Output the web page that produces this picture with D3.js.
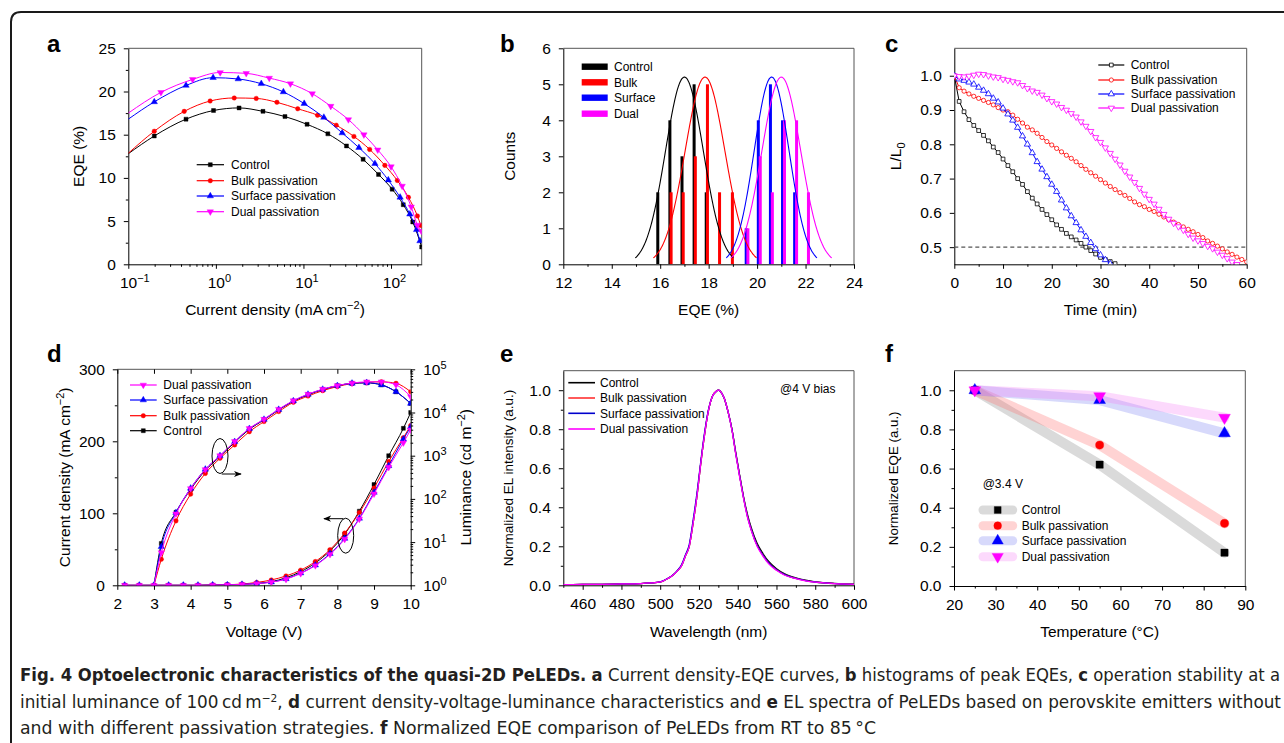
<!DOCTYPE html>
<html><head><meta charset="utf-8">
<script src="https://cdn.jsdelivr.net/npm/d3@7"></script>
<style>
body{margin:0;background:#fff;}
</style></head><body>
<script>
// ================= DATA =================
// Panel a: current density (mA cm-2) vs EQE (%)
const aControlJ   = [0.1, 0.198, 0.456, 0.94, 1.84, 3.45, 6.15, 11, 19, 31, 48, 72, 103, 138, 177, 224];
const aControlEQE = [12.8, 14.85, 16.8, 17.8, 18.1, 17.7, 17.1, 16.2, 15.1, 13.7, 12.15, 10.4, 8.7, 6.9, 4.9, 2.0];
const aBulkJ      = [0.1, 0.198, 0.435, 0.86, 1.62, 2.89, 4.98, 8.6, 14.5, 23.7, 37.7, 57, 85, 118, 158, 200, 219];
const aBulkEQE    = [12.85, 15.4, 17.7, 18.9, 19.25, 19.2, 18.75, 18.0, 17.25, 16.1, 14.8, 13.3, 11.45, 9.7, 7.75, 5.6, 4.5];
const aSurfaceJ   = [0.1, 0.198, 0.456, 0.93, 1.80, 3.3, 5.9, 10.2, 17.1, 27.7, 43, 65.5, 93, 127, 164, 196, 214];
const aSurfaceEQE = [16.8, 18.8, 20.7, 21.6, 21.45, 20.9, 19.95, 18.6, 17.0, 15.2, 13.5, 11.65, 9.75, 7.75, 5.8, 4.0, 2.7];
const aDualJ      = [0.1, 0.236, 0.543, 1.12, 2.22, 4.07, 7.1, 12.6, 20.5, 32.6, 49, 70.5, 100, 134, 170, 200, 222];
const aDualEQE    = [17.5, 19.9, 21.4, 22.2, 22.1, 21.55, 20.9, 19.75, 18.3, 16.75, 15.0, 13.25, 11.3, 9.05, 6.65, 4.55, 3.85];
const aXTicks = [0.1, 1, 10, 100];

// Panel b: histogram of peak EQEs
const bControlEQE = [15.9, 16.4, 16.9, 17.4, 17.9];
const bControlCnt = [2, 4, 3, 5, 2];
const bBulkEQE    = [16.45, 16.95, 17.45, 17.95, 18.45, 18.98];
const bBulkCnt    = [2, 2, 3, 5, 2, 2];
const bSurfaceEQE = [19.55, 20.05, 20.55, 21.05, 21.55];
const bSurfaceCnt = [1, 4, 5, 4, 2];
const bDualEQE    = [19.62, 20.13, 20.63, 21.13, 21.63, 22.12];
const bDualCnt    = [1, 3, 2, 4, 4, 2];
// Gaussian fit parameters (control, bulk, surface, dual)
const bFitCenter = [17.0, 17.85, 20.6, 21.0];
const bFitSigma  = [0.78, 0.82, 0.72, 0.8];
const bFitHeight = [5.2, 5.2, 5.2, 5.2];

// Panel c: L/L0 vs time (min)
const cTime = [0,1,2,3,4,5,6,7,8,9,10,11,12,13,14,15,16,17,18,19,20,21,22,23,24,25,26,27,28,29,30,31,32,33,34,35,36,37,38,39,40,41,42,43,44,45,46,47,48,49,50,51,52,53,54,55,56,57,58,59,60];
const cControl = [1.0,0.925,0.895,0.872,0.855,0.84,0.826,0.81,0.792,0.776,0.757,0.738,0.72,0.70,0.683,0.662,0.643,0.626,0.61,0.595,0.58,0.565,0.552,0.54,0.53,0.521,0.511,0.50,0.49,0.48,0.47,0.464,0.458,0.452];
const cBulk = [1.0,0.965,0.955,0.947,0.94,0.934,0.928,0.922,0.915,0.907,0.90,0.895,0.885,0.873,0.862,0.85,0.842,0.832,0.82,0.808,0.798,0.788,0.778,0.768,0.759,0.749,0.738,0.727,0.717,0.707,0.697,0.687,0.677,0.668,0.659,0.651,0.642,0.632,0.624,0.618,0.61,0.604,0.596,0.588,0.58,0.573,0.566,0.559,0.552,0.545,0.537,0.528,0.518,0.511,0.503,0.495,0.486,0.479,0.471,0.464,0.457];
const cSurface = [1.0,0.99,0.986,0.981,0.975,0.966,0.957,0.947,0.934,0.923,0.905,0.888,0.87,0.849,0.824,0.80,0.775,0.749,0.727,0.705,0.683,0.662,0.637,0.614,0.591,0.571,0.55,0.531,0.513,0.495,0.477,0.463,0.451];
const cDual = [1.0,0.998,0.997,0.999,1.002,1.005,1.004,1.0,0.997,0.995,0.99,0.987,0.983,0.98,0.972,0.963,0.956,0.952,0.944,0.934,0.925,0.918,0.908,0.90,0.89,0.88,0.866,0.853,0.838,0.82,0.806,0.79,0.774,0.757,0.74,0.722,0.705,0.689,0.672,0.655,0.64,0.626,0.611,0.596,0.582,0.57,0.56,0.55,0.538,0.527,0.519,0.511,0.503,0.496,0.486,0.477,0.467,0.457,0.45];

// Panel d: J-V-L
const dVoltJ = [2.2,2.6,3.0,3.4,3.8,4.2,4.6,5.0,5.4,5.8,6.2,6.6,7.0,7.4,7.8,8.2,8.6,9.0,9.4,9.8,10.0];
const dJControl = [0,0,0,0,0,0,0.3,0.6,1.2,2.5,5,10.5,19,31,48,71,103,140,180,218,240];
const dJBulk    = [0,0,0,0,0,0,0.4,0.8,1.8,4,7.4,13,21,33,49.5,72.5,101,135,172,205,222];
const dJSurface = [0,0,0,0,0,0,0.3,0.6,1.3,2.5,4.5,9,17,28,44,65,93,129,166,203,220];
const dJDual    = [0,0,0,0,0,0,0.3,0.6,1.2,2.3,4.3,8.5,16.5,27.5,43,64,92,127,164,198,216];
const dVoltL = [3.0,3.2,3.6,4.0,4.4,4.8,5.2,5.6,6.0,6.4,6.8,7.2,7.6,8.0,8.4,8.8,9.2,9.6,10.0];
const dLControl = [1,9.3,49,166,457,955,2040,4070,6760,11500,18200,25700,33900,41700,47300,48400,43700,30200,16200];
const dLBulk    = [1,4.0,31,129,389,871,1780,3590,6170,10500,17200,24000,32000,39800,46800,50100,51300,47300,30200];
const dLSurface = [1,7.8,48,176,484,1000,2110,4220,6920,11700,18600,26300,34300,41700,47300,49000,43700,30200,16200];
const dLDual    = [1,5.7,45,174,479,1000,2140,4270,7000,11900,18800,26600,34700,42200,47900,51300,51300,43700,23400];

// Panel e: EL spectra
const eWave = [450,460,470,480,490,495,500,504,507,509,511,513,515,517,519,521,523,525,527,529,530,531,533,535,537,539,541,543,545,547,550,553,556,560,564,570,575,580,590,600];
const eControl = [0.003,0.004,0.005,0.007,0.009,0.012,0.017,0.035,0.055,0.075,0.10,0.15,0.20,0.32,0.46,0.63,0.78,0.90,0.97,0.995,1.0,0.995,0.96,0.89,0.80,0.68,0.565,0.455,0.365,0.295,0.215,0.163,0.122,0.085,0.06,0.038,0.026,0.018,0.01,0.006];
const eBulk    = [0.003,0.004,0.005,0.007,0.009,0.012,0.017,0.035,0.055,0.075,0.10,0.15,0.20,0.32,0.46,0.63,0.78,0.90,0.97,0.995,1.0,0.995,0.96,0.89,0.80,0.675,0.56,0.45,0.355,0.285,0.205,0.155,0.115,0.08,0.056,0.035,0.024,0.017,0.009,0.005];
const eSurface = [0.003,0.004,0.005,0.007,0.009,0.012,0.018,0.036,0.057,0.078,0.105,0.155,0.21,0.335,0.475,0.64,0.79,0.905,0.97,0.995,1.0,0.995,0.96,0.89,0.80,0.675,0.56,0.45,0.355,0.285,0.205,0.155,0.115,0.08,0.056,0.035,0.024,0.017,0.009,0.005];
const eDual    = [0.003,0.004,0.005,0.007,0.009,0.012,0.017,0.035,0.055,0.075,0.10,0.15,0.20,0.32,0.46,0.63,0.78,0.90,0.97,0.995,1.0,0.995,0.96,0.89,0.795,0.67,0.555,0.445,0.35,0.28,0.20,0.15,0.11,0.077,0.053,0.034,0.023,0.016,0.009,0.005];

// Panel f: normalized EQE vs temperature
const fTemp = [25, 55, 85];
const fControl = [1.0, 0.62, 0.17];
const fBulk    = [1.0, 0.72, 0.32];
const fSurface = [1.0, 0.95, 0.78];
const fDual    = [1.0, 0.97, 0.86];

const seriesNames = ["Control", "Bulk passivation", "Surface passivation", "Dual passivation"];
const seriesColors = ["#000000", "#ff0000", "#0000ff", "#ff00ff"];

// ================= DRAWING =================
const FONT = '"Liberation Sans", Arial, Helvetica, sans-serif';
const FS_TICK = 15.5, FS_TITLE = 15.5, FS_LEG = 12;
const svg = d3.select('body').append('svg').attr('width',1284).attr('height',743)
  .style('font-family',FONT).style('display','block');
const defs = svg.append('defs');
defs.append('marker').attr('id','arrow').attr('viewBox','0 0 10 10').attr('refX',9).attr('refY',5)
  .attr('markerWidth',8).attr('markerHeight',8).attr('markerUnits','userSpaceOnUse').attr('orient','auto')
  .append('path').attr('d','M0,1 L10,5 L0,9 L3,5 Z').attr('fill','#000');

// outer border
svg.append('path').attr('d','M11,743 L11,22 Q11,12 21,12 L1284,12').attr('fill','none')
  .attr('stroke','#1a1a1a').attr('stroke-width',2);

const PA={l:128.3,r:421.7,t:48.3,b:264.3};
const PB={l:563.3,r:854,t:48.3,b:264.3};
const PC={l:954.3,r:1246.7,t:48.3,b:264.3};
const PD={l:117.3,r:410.7,t:369.3,b:585.3};
const PE={l:563.3,r:854,t:370.7,b:585.3};
const PF={l:954,r:1245.3,t:370.7,b:586};

function clip(id,P){ defs.append('clipPath').attr('id',id).append('rect')
  .attr('x',P.l).attr('y',P.t).attr('width',P.r-P.l).attr('height',P.b-P.t); }
clip('clipA',PA); clip('clipB',PB); clip('clipC',PC); clip('clipD',PD); clip('clipE',PE); clip('clipF',PF);

function frame(P, right=true){
  svg.append('path').attr('d',`M${P.l},${P.t} H${P.r}` + (right?` V${P.b}`:''))
    .attr('fill','none').attr('stroke','#555').attr('stroke-width',1);
}
function gen(orient, scale){
  return {bottom:d3.axisBottom, top:d3.axisTop, left:d3.axisLeft, right:d3.axisRight}[orient](scale);
}
function drawAxis(orient, scale, offset, major, minor, fmt, opts={}){
  const tl = opts.tl ?? 4.5;
  const inner = !!opts.inner;
  const tr = (orient==='bottom'||orient==='top') ? `translate(0,${offset})` : `translate(${offset},0)`;
  if(minor && minor.length){
    const m = svg.append('g').attr('transform',tr)
      .call(gen(orient,scale).tickValues(minor).tickSize(inner?-2.5:2.5).tickSizeOuter(0).tickFormat(''));
    m.select('.domain').remove();
    m.selectAll('line').attr('stroke','#000');
  }
  const a = svg.append('g').attr('transform',tr)
    .call(gen(orient,scale).tickValues(major).tickSize(inner?-tl:tl).tickSizeOuter(0).tickPadding(opts.pad ?? 8)
      .tickFormat(fmt===undefined?null:fmt));
  a.attr('font-family',FONT).attr('font-size',FS_TICK);
  a.selectAll('text').attr('fill','#000');
  a.selectAll('line').attr('stroke','#000');
  a.select('.domain').attr('stroke','#000');
  if(opts.noDomain) a.select('.domain').remove();
  if(opts.noLabels) a.selectAll('text').remove();
  return a;
}
function powLabels(a, anchorMiddle){
  a.selectAll('.tick text').each(function(d){
    const e = Math.round(Math.log10(d));
    const s = e<0 ? '\u2212'+(-e) : String(e);
    const t = d3.select(this); t.text(null);
    t.append('tspan').text('10');
    t.append('tspan').attr('dy','-0.55em').attr('font-size',11).text(s);
    if(anchorMiddle) t.attr('dx', s.length*3);
  });
}
function titleX(x,y,parts,fs=FS_TITLE){
  const t = svg.append('text').attr('x',x).attr('y',y).attr('text-anchor','middle').attr('font-size',fs).attr('fill','#000');
  addParts(t,parts); return t;
}
function titleY(x,y,parts,fs=FS_TITLE){
  const t = svg.append('text').attr('transform',`translate(${x},${y}) rotate(-90)`).attr('text-anchor','middle')
    .attr('font-size',fs).attr('fill','#000');
  addParts(t,parts); return t;
}
function addParts(t,parts){
  parts.forEach(p=>{
    if(typeof p==='string'){ t.append('tspan').text(p); return; }
    const s = t.append('tspan').text(p.t);
    if(p.sup){ s.attr('dy',-6).attr('font-size',11); }
    if(p.sub){ s.attr('dy',4).attr('font-size',11); }
    if(p.back){ s.attr('dy',p.back); }
    if(p.b){ s.attr('font-weight','bold'); }
  });
}
function panelLetter(x,y,l){
  svg.append('text').attr('x',x).attr('y',y).attr('font-size',24).attr('font-weight','bold').attr('fill','#000').text(l);
}
function symPath(type,size){
  const s = type==='square'?d3.symbolSquare : type==='circle'?d3.symbolCircle : d3.symbolTriangle;
  return d3.symbol().type(s).size(size)();
}
function markers(g, pts, type, size, color, open){
  g.selectAll(null).data(pts).join('path')
    .attr('d', symPath(type,size))
    .attr('transform', d=>`translate(${d[0]},${d[1]})` + (type==='down'?' rotate(180)':''))
    .attr('fill', open?'#fff':color).attr('stroke', color).attr('stroke-width', open?0.8:0.4);
}
const symTypes = ['square','circle','up','down'];

// ---------------- Panel a ----------------
{
  const x = d3.scaleLog().domain([0.1,224]).range([PA.l,PA.r]);
  const y = d3.scaleLinear().domain([0,25]).range([PA.b,PA.t]);
  frame(PA);
  const minorX = [];
  [0.1,1,10,100].forEach(b=>{ for(let k=2;k<=9;k++){ if(b*k<=224) minorX.push(b*k);} });
  const ax = drawAxis('bottom', x, PA.b, aXTicks, minorX, ()=>'');
  powLabels(ax, true);
  drawAxis('left', y, PA.l, [0,5,10,15,20,25], [2.5,7.5,12.5,17.5,22.5], d3.format('d'));
  const g = svg.append('g').attr('clip-path','url(#clipA)');
  const sets = [[aControlJ,aControlEQE],[aBulkJ,aBulkEQE],[aSurfaceJ,aSurfaceEQE],[aDualJ,aDualEQE]];
  const line = d3.line().curve(d3.curveMonotoneX);
  sets.forEach((s,i)=>{
    const pts = s[0].map((v,j)=>[x(v), y(s[1][j])]);
    g.append('path').attr('d',line(pts)).attr('fill','none').attr('stroke',seriesColors[i]).attr('stroke-width',1);
    markers(g, pts.slice(1), symTypes[i], i>=2?18:16, seriesColors[i], false);
  });
  // legend
  const rows=[164.7,180.7,196,211.7];
  seriesNames.forEach((n,i)=>{
    svg.append('line').attr('x1',196.7).attr('x2',224).attr('y1',rows[i]).attr('y2',rows[i]).attr('stroke',seriesColors[i]).attr('stroke-width',1.2);
    markers(svg.append('g'), [[210.3,rows[i]]], symTypes[i], i>=2?18:16, seriesColors[i], false);
    svg.append('text').attr('x',231).attr('y',rows[i]).attr('dy','0.35em').attr('font-size',FS_LEG).text(n);
  });
  titleX((PA.l+PA.r)/2, 314.5, ['Current density (mA cm', {t:'\u22122',sup:true}, {t:')',back:6}]);
  titleY(83.5, (PA.t+PA.b)/2, ['EQE (%)']);
  panelLetter(47,52,'a');
}

// ---------------- Panel b ----------------
{
  const x = d3.scaleLinear().domain([12,24]).range([PB.l,PB.r]);
  const y = d3.scaleLinear().domain([0,6]).range([PB.b,PB.t]);
  frame(PB);
  drawAxis('bottom', x, PB.b, [12,14,16,18,20,22,24], [13,15,17,19,21,23], d3.format('d'));
  drawAxis('left', y, PB.l, [0,1,2,3,4,5,6], [], d3.format('d'));
  const g = svg.append('g').attr('clip-path','url(#clipB)');
  const hs = [[bControlEQE,bControlCnt],[bBulkEQE,bBulkCnt],[bSurfaceEQE,bSurfaceCnt],[bDualEQE,bDualCnt]];
  const hw = 0.062;
  hs.forEach((h,i)=>{
    g.selectAll(null).data(h[0]).join('rect')
      .attr('x', d=>x(d-hw)).attr('width', d=>x(d+hw)-x(d-hw))
      .attr('y', (d,j)=>y(h[1][j])).attr('height',(d,j)=>y(0)-y(h[1][j]))
      .attr('fill', seriesColors[i]);
  });
  const line = d3.line().curve(d3.curveBasis);
  bFitCenter.forEach((c,i)=>{
    const s = bFitSigma[i], A = bFitHeight[i];
    const pts = d3.range(c-2.6*s, c+2.6*s+1e-9, 0.02).map(v=>[x(v), y(A*Math.exp(-(v-c)*(v-c)/(2*s*s)))]);
    g.append('path').attr('d',line(pts)).attr('fill','none').attr('stroke',seriesColors[i]).attr('stroke-width',1.1);
  });
  const names=['Control','Bulk','Surface','Dual'];
  const rows=[66.7,82.3,97.7,113.7];
  names.forEach((n,i)=>{
    svg.append('rect').attr('x',581.7).attr('y',rows[i]-3.2).attr('width',26).attr('height',6.4).attr('fill',seriesColors[i]);
    svg.append('text').attr('x',614).attr('y',rows[i]).attr('dy','0.35em').attr('font-size',FS_LEG).text(n);
  });
  titleX((PB.l+PB.r)/2, 314.5, ['EQE (%)']);
  titleY(515, (PB.t+PB.b)/2, ['Counts']);
  panelLetter(500,52,'b');
}

// ---------------- Panel c ----------------
{
  const x = d3.scaleLinear().domain([0,60]).range([PC.l,PC.r]);
  const y = d3.scaleLinear().domain([0.45,1.08]).range([PC.b,PC.t]);
  frame(PC);
  drawAxis('bottom', x, PC.b, [0,10,20,30,40,50,60], [5,15,25,35,45,55], d3.format('d'));
  drawAxis('left', y, PC.l, [0.5,0.6,0.7,0.8,0.9,1.0], [], d3.format('.1f'));
  svg.append('line').attr('x1',PC.l).attr('x2',PC.r).attr('y1',y(0.5)).attr('y2',y(0.5))
    .attr('stroke','#555').attr('stroke-width',1.2).attr('stroke-dasharray','4,3');
  const g = svg.append('g').attr('clip-path','url(#clipC)');
  const sets = [cControl,cBulk,cSurface,cDual];
  const line = d3.line();
  sets.forEach((s,i)=>{
    const pts = s.map((v,j)=>[x(cTime[j]), y(v)]);
    g.append('path').attr('d',line(pts)).attr('fill','none').attr('stroke',seriesColors[i]).attr('stroke-width',1);
    markers(g, pts, symTypes[i], i>=2?17:14, seriesColors[i], true);
  });
  const rows=[65,80,94,108];
  seriesNames.forEach((n,i)=>{
    svg.append('line').attr('x1',1098.3).attr('x2',1124.3).attr('y1',rows[i]).attr('y2',rows[i]).attr('stroke',seriesColors[i]).attr('stroke-width',1.2);
    markers(svg.append('g'), [[1111.3,rows[i]]], symTypes[i], i>=2?17:14, seriesColors[i], true);
    svg.append('text').attr('x',1130.7).attr('y',rows[i]).attr('dy','0.35em').attr('font-size',FS_LEG).text(n);
  });
  titleX((PC.l+PC.r)/2, 314.5, ['Time (min)']);
  titleY(900.5, (PC.t+PC.b)/2, ['L/L', {t:'0',sub:true}]);
  panelLetter(885,52,'c');
}

// ---------------- Panel d ----------------
{
  const x = d3.scaleLinear().domain([2,10]).range([PD.l,PD.r]);
  const yJ = d3.scaleLinear().domain([0,300]).range([PD.b,PD.t]);
  const yL = d3.scaleLog().domain([1,1e5]).range([PD.b,PD.t]);
  frame(PD, false);
  drawAxis('bottom', x, PD.b, [2,3,4,5,6,7,8,9,10], [], d3.format('d'));
  drawAxis('top', x, PD.t, [2,3,4,5,6,7,8,9,10], [], '', {inner:true, noLabels:true, noDomain:true});
  drawAxis('left', yJ, PD.l, [0,100,200,300], [50,150,250], d3.format('d'));
  const minorL=[]; [1,10,100,1000,10000].forEach(b=>{ for(let k=2;k<=9;k++) minorL.push(b*k); });
  const ar = drawAxis('right', yL, PD.r, [1,10,100,1000,10000,100000], minorL, ()=>'');
  powLabels(ar, false);
  const g = svg.append('g').attr('clip-path','url(#clipD)');
  const line = d3.line().curve(d3.curveMonotoneX);
  const J = [dJControl,dJBulk,dJSurface,dJDual];
  const L = [dLControl,dLBulk,dLSurface,dLDual];
  [0,1,2,3].forEach(i=>{
    const pj = J[i].map((v,j)=>[x(dVoltJ[j]), yJ(v)]);
    g.append('path').attr('d',line(pj)).attr('fill','none').attr('stroke',seriesColors[i]).attr('stroke-width',1);
    markers(g, pj, symTypes[i], i>=2?18:16, seriesColors[i], false);
    const pl = L[i].map((v,j)=>[x(dVoltL[j]), yL(v)]);
    g.append('path').attr('d',line(pl)).attr('fill','none').attr('stroke',seriesColors[i]).attr('stroke-width',1);
    markers(g, pl.filter((p,j)=>L[i][j]>1), symTypes[i], i>=2?18:16, seriesColors[i], false);
  });
  // ellipses and arrows
  svg.append('ellipse').attr('cx',220).attr('cy',456).attr('rx',8).attr('ry',17.5).attr('fill','none').attr('stroke','#000').attr('stroke-width',1);
  svg.append('line').attr('x1',221.7).attr('y1',474).attr('x2',241).attr('y2',474).attr('stroke','#000').attr('stroke-width',1).attr('marker-end','url(#arrow)');
  svg.append('ellipse').attr('cx',345.7).attr('cy',535.7).attr('rx',8).attr('ry',17.5).attr('fill','none').attr('stroke','#000').attr('stroke-width',1);
  svg.append('line').attr('x1',343.3).attr('y1',518.7).attr('x2',324).attr('y2',518.7).attr('stroke','#000').attr('stroke-width',1).attr('marker-end','url(#arrow)');
  // legend (reverse order)
  const rows=[385,400,415.7,430.7];
  [3,2,1,0].forEach((i,r)=>{
    svg.append('line').attr('x1',130).attr('x2',156.7).attr('y1',rows[r]).attr('y2',rows[r]).attr('stroke',seriesColors[i]).attr('stroke-width',1.2);
    markers(svg.append('g'), [[143.3,rows[r]]], symTypes[i], i>=2?18:16, seriesColors[i], false);
    svg.append('text').attr('x',163.3).attr('y',rows[r]).attr('dy','0.35em').attr('font-size',FS_LEG).text(seriesNames[i]);
  });
  titleX((PD.l+PD.r)/2, 637, ['Voltage (V)']);
  titleY(70, (PD.t+PD.b)/2, ['Current density (mA cm', {t:'\u22122',sup:true}, {t:')',back:6}]);
  titleY(471, (PD.t+PD.b)/2, ['Luminance (cd m', {t:'\u22122',sup:true}, {t:')',back:6}]);
  panelLetter(47,362,'d');
}

// ---------------- Panel e ----------------
{
  const x = d3.scaleLinear().domain([450,600]).range([PE.l,PE.r]);
  const y = d3.scaleLinear().domain([0,1.1]).range([PE.b,PE.t]);
  frame(PE);
  drawAxis('bottom', x, PE.b, [460,480,500,520,540,560,580,600], [450,470,490,510,530,550,570,590], d3.format('d'));
  drawAxis('left', y, PE.l, [0,0.2,0.4,0.6,0.8,1.0], [0.1,0.3,0.5,0.7,0.9], d3.format('.1f'));
  const g = svg.append('g').attr('clip-path','url(#clipE)');
  const line = d3.line().curve(d3.curveMonotoneX);
  const colorsE = ['#000000','#ff3030','#0000cc','#ff00ff'];
  [eControl,eBulk,eSurface,eDual].forEach((s,i)=>{
    const pts = s.map((v,j)=>[x(eWave[j]), y(v)]);
    g.append('path').attr('d',line(pts)).attr('fill','none').attr('stroke',colorsE[i]).attr('stroke-width',1.3);
  });
  const rows=[382.7,398,413.3,429];
  seriesNames.forEach((n,i)=>{
    svg.append('line').attr('x1',568.3).attr('x2',595).attr('y1',rows[i]).attr('y2',rows[i]).attr('stroke',colorsE[i]).attr('stroke-width',1.6);
    svg.append('text').attr('x',600).attr('y',rows[i]).attr('dy','0.35em').attr('font-size',FS_LEG).text(n);
  });
  svg.append('text').attr('x',780).attr('y',388.3).attr('dy','0.35em').attr('font-size',FS_LEG).text('@4 V bias');
  titleX((PE.l+PE.r)/2, 637, ['Wavelength (nm)']);
  titleY(513, (PE.t+PE.b)/2, ['Normalized EL intensity (a.u.)'], 13.5);
  panelLetter(500,362,'e');
}

// ---------------- Panel f ----------------
{
  const x = d3.scaleLinear().domain([20,90]).range([PF.l,PF.r]);
  const y = d3.scaleLinear().domain([0,1.1]).range([PF.b,PF.t]);
  frame(PF);
  drawAxis('bottom', x, PF.b, [20,30,40,50,60,70,80,90], [25,35,45,55,65,75,85], d3.format('d'));
  drawAxis('left', y, PF.l, [0,0.2,0.4,0.6,0.8,1.0], [0.1,0.3,0.5,0.7,0.9], d3.format('.1f'));
  const bands = ['rgba(150,150,150,0.35)','rgba(255,110,110,0.3)','rgba(110,120,240,0.28)','rgba(245,120,245,0.28)'];
  const g = svg.append('g').attr('clip-path','url(#clipF)');
  const line = d3.line();
  const sets = [fControl,fBulk,fSurface,fDual];
  sets.forEach((s,i)=>{
    const pts = s.map((v,j)=>[x(fTemp[j]), y(v)]);
    g.append('path').attr('d',line(pts)).attr('fill','none').attr('stroke',bands[i]).attr('stroke-width',10).attr('stroke-linecap','round').attr('stroke-linejoin','round');
  });
  const sizes=[52,52,60,60];
  sets.forEach((s,i)=>{
    const pts = s.map((v,j)=>[x(fTemp[j]), y(v)]);
    markers(g, pts, symTypes[i], sizes[i], seriesColors[i], false);
  });
  const rows=[510,525.7,540.7,556.7];
  seriesNames.forEach((n,i)=>{
    svg.append('line').attr('x1',983).attr('x2',1012.7).attr('y1',rows[i]).attr('y2',rows[i]).attr('stroke',bands[i]).attr('stroke-width',9).attr('stroke-linecap','round');
    markers(svg.append('g'), [[997.7,rows[i]]], symTypes[i], sizes[i]*0.9, seriesColors[i], false);
    svg.append('text').attr('x',1021.7).attr('y',rows[i]).attr('dy','0.35em').attr('font-size',FS_LEG).text(n);
  });
  svg.append('text').attr('x',982.7).attr('y',484).attr('dy','0.35em').attr('font-size',FS_LEG).text('@3.4 V');
  titleX((PF.l+PF.r)/2, 637, ['Temperature (\u00B0C)']);
  titleY(898, (PF.t+PF.b)/2, ['Normalized EQE (a.u.)'], 13.3);
  panelLetter(885,362,'f');
}

// ---------------- Caption ----------------
{
  const cap = svg.append('g').attr('font-family','"Liberation Sans Narrow","DejaVu Sans Condensed","Liberation Sans",sans-serif')
    .attr('font-size',17.5).attr('fill','#231f20');
  function capLine(y, parts, len){
    const t = cap.append('text').attr('x',20).attr('y',y).attr('textLength',len).attr('lengthAdjust','spacingAndGlyphs');
    addParts(t, parts);
  }
  capLine(681, [{t:'Fig. 4 Optoelectronic characteristics of the quasi-2D PeLEDs.',b:true}, ' ', {t:'a',b:true},
    ' Current density-EQE curves, ', {t:'b',b:true}, ' histograms of peak EQEs, ', {t:'c',b:true}, ' operation stability at a'], 1260);
  capLine(707.5, ['initial luminance of 100\u2009cd\u2009m', {t:'\u22122',sup:true}, {t:', ',back:6}, {t:'d',b:true},
    ' current density-voltage-luminance characteristics and ', {t:'e',b:true}, ' EL spectra of PeLEDs based on perovskite emitters without'], 1261);
  capLine(733.5, ['and with different passivation strategies. ', {t:'f',b:true}, ' Normalized EQE comparison of PeLEDs from RT to 85\u2009\u00B0C'], 856);
}
</script>
</body></html>
